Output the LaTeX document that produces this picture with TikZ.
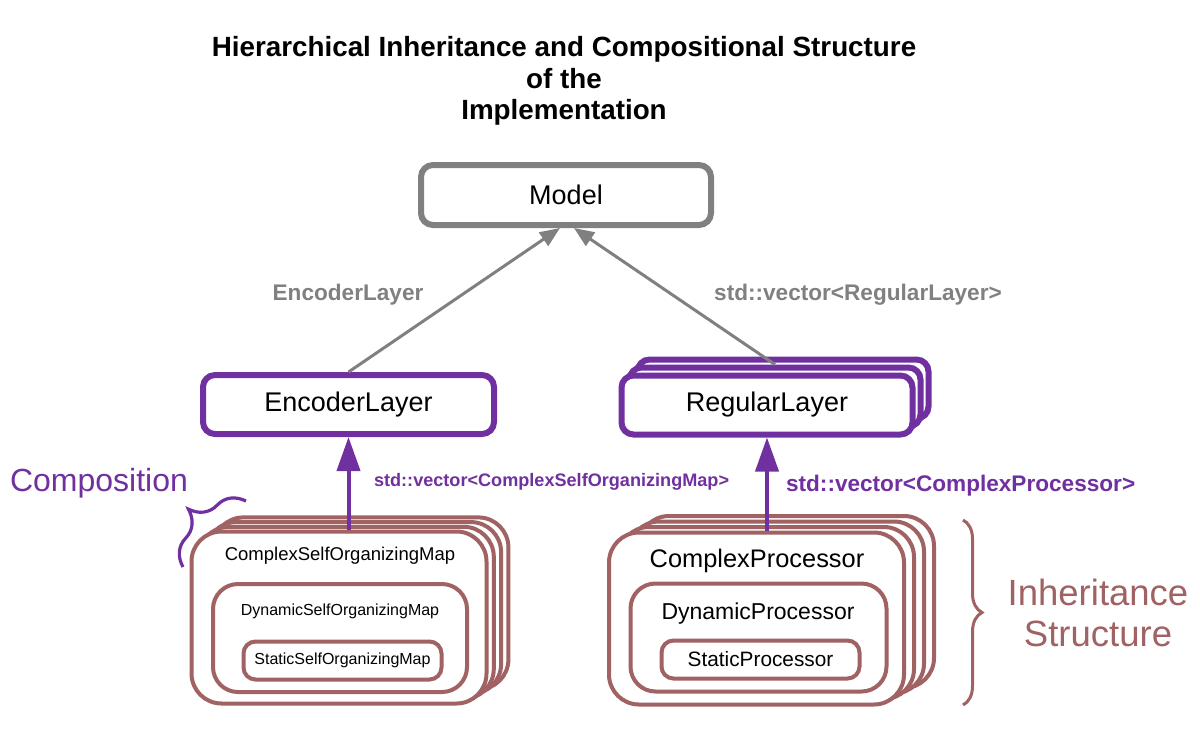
\documentclass[tikz,border=0pt]{standalone}
\usepackage{fontspec}
\setmainfont{Liberation Sans}
\usetikzlibrary{arrows.meta,positioning,decorations.pathreplacing}
\definecolor{layerpurple}{RGB}{112,48,160}
\definecolor{modelgray}{RGB}{128,128,128}
\definecolor{mapbrown}{RGB}{160,98,98}

\begin{document}
\begin{tikzpicture}[x=0.5pt, y=-0.5pt,
	layerbox/.style={draw=layerpurple, line width=3pt, rounded corners=6pt, fill=white,
		minimum width=145.5pt, minimum height=29.5pt, font=\fontsize{13.5}{16}\selectfont},
	stackbox/.style={draw=mapbrown, line width=2pt, rounded corners=15pt, fill=white,
		minimum width=147.5pt, minimum height=86pt},
	midbox/.style={draw=mapbrown, line width=2pt, rounded corners=12.5pt,
		minimum width=127pt, minimum height=54pt},
	corebox/.style={draw=mapbrown, line width=2pt, rounded corners=6pt,
		minimum width=99pt, minimum height=19pt},
	grayarrow/.style={draw=modelgray, line width=1.5pt, -{Triangle[length=10pt, width=8pt]}},
	purplearrow/.style={draw=layerpurple, line width=2pt, -{Triangle[length=17pt, width=11.5pt]}},
	veclabel/.style={font=\bfseries\fontsize{11.3}{14}\selectfont},
]
	\useasboundingbox (0, 0) rectangle (1200, 730);
	% Title.
	\node[align=center, font=\bfseries\fontsize{13.9}{15.75}\selectfont] (title) at (564, 81)
		{Hierarchical Inheritance and Compositional Structure\\of the\\Implementation};
	% Top model and its two layers.
	\node[draw=modelgray, line width=3pt, rounded corners=6pt, minimum width=145pt,
		minimum height=30pt, font=\fontsize{13.5}{16}\selectfont] (model) at (566, 195) {Model};
	\node[layerbox] (enc) at (348.5, 404.5) {EncoderLayer};
	\foreach \k in {2, 1} {
		\node[layerbox, xshift=\k*4pt, yshift=\k*4pt] (reg\k) at (767, 405) {};
	}
	\node[layerbox] (reg) at (767, 405) {RegularLayer};
	\draw[grayarrow] (enc.north) -- ([xshift=-3pt]model.south);
	\draw[grayarrow] (reg1.north) -- ([xshift=4pt]model.south);
	\node[veclabel, text=modelgray] (encname) at (348, 295) {EncoderLayer};
	\node[veclabel, text=modelgray] (regname) at (858, 295) {std::vector<RegularLayer>};
	% Self-organizing map stack.
	\foreach \k in {3, 2, 1} {
		\node[stackbox, xshift=\k*3.65pt, yshift=\k*2.35pt] (csom\k) at (339, 617.5) {};
	}
	\node[stackbox] (csom) at (339, 617.5) {};
	\node[midbox] (dsom) at (340, 638) {};
	\node[corebox, font=\fontsize{8}{10}\selectfont] (ssom) at (342.5, 660.5)
		{StaticSelfOrganizingMap};
	\node[font=\fontsize{9.25}{11}\selectfont] (csomname) at (340, 556) {ComplexSelfOrganizingMap};
	\node[font=\fontsize{8}{10}\selectfont] (dsomname) at (340, 611) {DynamicSelfOrganizingMap};
	% Processor stack.
	\foreach \k in {3, 2, 1} {
		\node[stackbox, xshift=\k*5pt, yshift=\k*2.75pt] (cp\k) at (756.5, 618.5) {};
	}
	\node[stackbox] (cp) at (756.5, 618.5) {};
	\node[midbox, minimum width=128pt] (dp) at (758.5, 637.5) {};
	\node[corebox, font=\fontsize{10.4}{12}\selectfont] (sp) at (760.5, 659.5) {StaticProcessor};
	\node[font=\fontsize{12.7}{15}\selectfont] (cpname) at (757, 561) {ComplexProcessor};
	\node[font=\fontsize{11.5}{14}\selectfont] (dpname) at (758, 614) {DynamicProcessor};
	% Composition arrows.
	\draw[purplearrow] (enc.south |- csom.north) -- (enc.south);
	\draw[purplearrow] (reg.south |- cp.north) -- (reg.south);
	\node[veclabel, font=\bfseries\fontsize{9.05}{11}\selectfont, text=layerpurple, anchor=west]
		(mapvec) at (367, 482) {std::vector<ComplexSelfOrganizingMap>};
	\node[veclabel, text=layerpurple, anchor=west] (procvec) at (779, 486)
		{std::vector<ComplexProcessor>};
	% Side notes.
	\node[text=layerpurple, font=\fontsize{16}{19}\selectfont] (compname) at (99, 483) {Composition};
	\coordinate (compfoot) at (183, 567);
	\coordinate (comphead) at (246, 501);
	\draw[layerpurple, line width=1.6pt, decorate, decoration={brace, amplitude=18pt}]
		(compfoot) -- (comphead);
	\node[text=mapbrown, align=center, font=\fontsize{18.25}{20.5}\selectfont] (inhname)
		at (1098, 613) {Inheritance\\Structure};
	\coordinate (inhtop) at (963, 520);
	\coordinate (inhfoot) at (963, 705);
	\draw[mapbrown, line width=1.5pt, decorate, decoration={brace, amplitude=9.5pt}]
		(inhtop) -- (inhfoot);
\end{tikzpicture}
\end{document}
